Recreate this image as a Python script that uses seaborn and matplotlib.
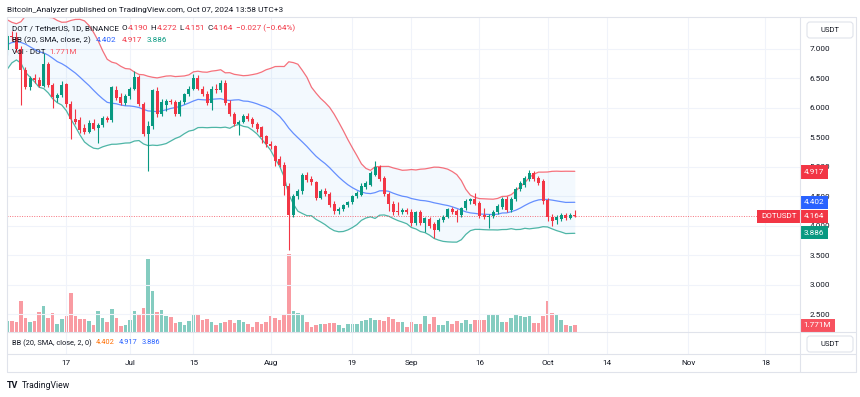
import numpy as np
import pandas as pd
import matplotlib
matplotlib.use("Agg")
import matplotlib.pyplot as plt
import matplotlib.transforms as mtransforms
from matplotlib.lines import Line2D
from matplotlib.patches import FancyBboxPatch
import seaborn as sns

# DOT / USDT daily candles (Binance), 2024-06-04 .. 2024-10-07
start_date = "2024-06-04"
opens = [6.99, 7.22, 7.20, 7.00, 6.65, 6.36, 6.51, 6.47, 6.38, 6.74,
         6.39, 6.17, 6.22, 6.40, 6.07, 5.81, 5.80, 5.66, 5.60, 5.75,
         5.66, 5.71, 5.83, 5.80, 6.30, 6.19, 6.09, 6.20, 6.33, 6.53,
         6.07, 5.56, 5.69, 6.28, 5.90, 6.05, 6.12, 6.10, 5.90, 6.10,
         6.23, 6.33, 6.50, 6.33, 6.24, 6.09, 6.33, 6.30, 6.43, 6.09,
         5.90, 5.73, 5.77, 5.86, 5.82, 5.72, 5.67, 5.52, 5.39, 5.35,
         5.13, 5.04, 4.68, 4.19, 4.50, 4.59, 4.87, 4.79, 4.74, 4.48,
         4.59, 4.55, 4.38, 4.26, 4.28, 4.35, 4.40, 4.50, 4.52, 4.66,
         4.70, 4.87, 5.00, 4.82, 4.55, 4.38, 4.26, 4.24, 4.27, 4.24,
         4.05, 4.23, 4.05, 4.11, 4.03, 3.94, 4.10, 4.16, 4.28, 4.26,
         4.19, 4.30, 4.42, 4.45, 4.39, 4.19, 4.15, 4.17, 4.24, 4.32,
         4.46, 4.27, 4.46, 4.63, 4.70, 4.80, 4.89, 4.81, 4.76, 4.44,
         4.16, 4.10, 4.11, 4.19, 4.13, 4.190]
highs = [7.26, 7.30, 7.28, 7.05, 6.70, 6.55, 6.58, 6.52, 6.93, 6.78,
         6.42, 6.26, 6.45, 6.42, 6.12, 5.98, 5.84, 5.72, 5.80, 5.82,
         5.74, 5.86, 5.87, 6.38, 6.38, 6.25, 6.24, 6.36, 6.62, 6.56,
         6.10, 5.78, 6.33, 6.35, 6.15, 6.16, 6.16, 6.14, 6.14, 6.26,
         6.37, 6.58, 6.56, 6.38, 6.28, 6.37, 6.40, 6.47, 6.47, 6.13,
         5.94, 5.80, 5.90, 5.92, 5.85, 5.76, 5.70, 5.55, 5.44, 5.38,
         5.18, 5.08, 4.72, 4.55, 4.63, 4.89, 4.92, 4.84, 4.77, 4.63,
         4.65, 4.58, 4.42, 4.32, 4.38, 4.43, 4.53, 4.60, 4.72, 4.76,
         4.93, 5.10, 5.03, 4.85, 4.58, 4.42, 4.40, 4.30, 4.30, 4.28,
         4.26, 4.27, 4.16, 4.15, 4.07, 4.13, 4.19, 4.31, 4.32, 4.29,
         4.33, 4.45, 4.48, 4.56, 4.42, 4.30, 4.20, 4.27, 4.37, 4.49,
         4.50, 4.49, 4.66, 4.76, 4.85, 4.95, 4.93, 4.84, 4.79, 4.48,
         4.20, 4.18, 4.22, 4.22, 4.22, 4.272]
lows = [6.90, 7.14, 6.95, 6.05, 6.33, 6.30, 6.42, 6.35, 6.35, 6.36,
        6.00, 6.10, 6.18, 6.02, 5.47, 5.72, 5.58, 5.56, 5.57, 5.62,
        5.40, 5.68, 5.76, 5.77, 6.14, 6.05, 6.05, 6.16, 6.30, 6.03,
        5.52, 4.93, 5.65, 5.85, 5.86, 5.95, 6.06, 5.86, 5.86, 6.06,
        6.20, 6.30, 6.30, 6.20, 6.05, 5.97, 6.25, 6.27, 6.05, 5.86,
        5.70, 5.54, 5.74, 5.78, 5.68, 5.60, 5.40, 5.34, 5.30, 5.02,
        5.00, 4.53, 3.59, 4.15, 4.45, 4.55, 4.74, 4.70, 4.44, 4.45,
        4.50, 4.32, 4.20, 4.21, 4.25, 4.32, 4.37, 4.47, 4.50, 4.63,
        4.67, 4.84, 4.76, 4.50, 4.25, 4.19, 4.18, 4.20, 4.20, 4.00,
        4.02, 4.02, 3.90, 3.96, 3.80, 3.91, 4.07, 4.13, 4.20, 4.06,
        4.16, 4.27, 4.38, 4.35, 4.13, 4.12, 3.97, 4.14, 4.21, 4.29,
        4.24, 4.24, 4.43, 4.60, 4.66, 4.77, 4.77, 4.69, 4.38, 4.08,
        4.00, 4.03, 4.08, 4.10, 4.11, 4.151]
closes = [7.22, 7.20, 7.00, 6.65, 6.36, 6.51, 6.47, 6.38, 6.74, 6.39,
          6.19, 6.22, 6.39, 6.07, 5.81, 5.77, 5.63, 5.60, 5.75, 5.65,
          5.71, 5.83, 5.79, 6.36, 6.17, 6.09, 6.20, 6.33, 6.53, 6.07,
          5.56, 5.69, 6.30, 5.90, 6.10, 6.12, 6.10, 5.90, 6.10, 6.23,
          6.33, 6.50, 6.33, 6.24, 6.09, 6.33, 6.30, 6.43, 6.09, 5.90,
          5.73, 5.77, 5.86, 5.82, 5.72, 5.64, 5.50, 5.39, 5.35, 5.10,
          5.03, 4.68, 4.19, 4.50, 4.59, 4.87, 4.78, 4.74, 4.48, 4.59,
          4.55, 4.36, 4.26, 4.28, 4.35, 4.40, 4.50, 4.56, 4.68, 4.72,
          4.90, 5.00, 4.80, 4.55, 4.38, 4.23, 4.24, 4.27, 4.23, 4.05,
          4.23, 4.05, 4.13, 4.00, 3.94, 4.10, 4.16, 4.28, 4.24, 4.19,
          4.30, 4.42, 4.45, 4.38, 4.17, 4.15, 4.17, 4.24, 4.34, 4.46,
          4.27, 4.46, 4.63, 4.73, 4.82, 4.89, 4.80, 4.72, 4.42, 4.16,
          4.09, 4.15, 4.19, 4.13, 4.19, 4.164]
# volume in millions of DOT
volumes = [2.9, 2.9, 2.55, 8.1, 3.6, 2.7, 2.9, 5.2, 6.8, 3.6,
           5.1, 2.0, 3.4, 4.1, 10.2, 4.1, 3.4, 3.4, 2.9, 1.8,
           5.5, 3.8, 2.7, 6.1, 3.8, 1.6, 1.9, 3.3, 5.5, 4.4,
           6.4, 19.4, 10.9, 5.2, 5.9, 4.3, 3.9, 2.3, 2.7, 1.9,
           2.9, 4.8, 4.4, 3.3, 3.4, 2.7, 1.8, 2.3, 2.7, 3.1,
           2.3, 3.1, 2.55, 2.1, 1.2, 2.55, 2.0, 2.7, 4.3, 3.6,
           3.1, 4.7, 20.7, 5.5, 5.0, 4.6, 2.7, 1.2, 1.8, 2.2,
           2.2, 2.4, 2.4, 1.9, 1.0, 2.1, 2.1, 2.1, 2.9, 3.1,
           3.6, 3.3, 3.1, 2.9, 4.0, 3.4, 2.55, 2.55, 1.2, 2.55,
           2.2, 2.2, 4.1, 2.0, 4.0, 1.8, 1.8, 2.9, 2.0, 2.9,
           2.4, 3.3, 2.0, 3.1, 3.3, 3.3, 4.7, 4.4, 4.4, 2.55,
           2.55, 3.6, 4.7, 4.1, 4.0, 4.3, 2.4, 2.4, 4.1, 8.2,
           5.0, 4.7, 3.1, 1.8, 1.6, 1.771]
# closes before the first visible candle, only used to start the 20-day bands
warmup_closes = [6.55, 6.75, 6.85, 6.95, 7.40, 7.35, 7.20, 7.10, 7.15, 7.25,
                 7.35, 7.10, 7.00, 6.95, 6.90, 7.00, 7.05, 7.15, 7.25]

bb_values = [4.402, 4.917, 3.886]   # basis, upper, lower as printed
last_volume = "1.771M"

tick_dates = ["2024-06-17", "2024-07-01", "2024-07-15", "2024-08-01", "2024-08-19", "2024-09-01",
              "2024-09-16", "2024-10-01", "2024-10-14", "2024-11-01", "2024-11-18"]
tick_labels = ["17", "Jul", "15", "Aug", "19", "Sep", "16", "Oct", "14", "Nov", "18"]
price_ticks = [2.5, 3.0, 3.5, 4.0, 4.5, 5.0, 5.5, 6.0, 6.5, 7.0]

UP, DOWN = "#089981", "#f23645"
VOL_UP, VOL_DOWN = "#84ccc0", "#f99ba2"
DARK = "#131722"
BORDER = "#e0e3eb"
GRID = "#f0f3fa"

sns.set_theme(style="white")
plt.rcParams["font.family"] = ["Roboto", "DejaVu Sans"]

W, H = 860, 397
def fx(x):
    return x / W
def fy(y):
    return 1 - y / H

o = np.array(opens); h = np.array(highs); l = np.array(lows); c = np.array(closes)
n = len(c)
idx = np.arange(n)
dates = pd.date_range(start_date, periods=n, freq="D")
tick_pos = [(pd.Timestamp(d) - dates[0]).days for d in tick_dates]
rising = c >= o

# bollinger bands 20, 2
s = pd.Series(warmup_closes + closes)
mid = s.rolling(20).mean().to_numpy()[-n:]
sd = s.rolling(20).std(ddof=0).to_numpy()[-n:]
upper = mid + 2 * sd
lower = mid - 2 * sd

fig = plt.figure(figsize=(W / 100, H / 100), dpi=100)
fig.patch.set_facecolor("white")

ax = fig.add_axes([fx(7), fy(332), (800 - 7) / W, (332 - 17) / H])
axv = ax.twinx()
ax.set_zorder(axv.get_zorder() + 1)
ax.patch.set_visible(False)

# volume underneath
vol_df = pd.DataFrame({"i": idx, "vol": volumes, "dir": np.where(rising, "up", "down")})
sns.barplot(data=vol_df, x="i", y="vol", hue="dir", palette={"up": VOL_UP, "down": VOL_DOWN},
            native_scale=True, dodge=False, width=0.78, saturation=1, legend=False,
            linewidth=0, ax=axv)
axv.set_ylim(0, 83.2)
axv.set_yticks([])
axv.set_xlabel("")
axv.set_ylabel("")

# bands
ax.fill_between(idx, lower, upper, color="#2196f3", alpha=0.05, lw=0, zorder=1)
sns.lineplot(x=idx, y=upper, ax=ax, color=DOWN, lw=0.9, alpha=0.7, zorder=2)
sns.lineplot(x=idx, y=mid, ax=ax, color="#2962ff", lw=0.9, alpha=0.7, zorder=2)
sns.lineplot(x=idx, y=lower, ax=ax, color=UP, lw=0.9, alpha=0.7, zorder=2)

# candles
cols = np.where(rising, UP, DOWN)
ax.vlines(idx, l, h, colors=cols, lw=0.8, zorder=3)
body = np.maximum(np.abs(c - o), 0.012)
ax.bar(idx, body, bottom=np.minimum(o, c), width=0.66, color=cols, lw=0, zorder=4)

ax.axhline(c[-1], color=DOWN, lw=0.7, ls=(0, (1, 1.5)), alpha=0.7, zorder=2)

ax.set_xlim(-0.07, 174.6)
ax.set_ylim(2.203, 7.542)
ax.set_xticks(tick_pos)
ax.tick_params(axis="x", length=0, labelbottom=False)
ax.yaxis.tick_right()
ax.set_yticks(price_ticks)
ax.set_yticklabels([f"{v:.3f}" for v in price_ticks])
ax.tick_params(axis="y", length=0, pad=7, labelsize=5.9, labelcolor=DARK)
ax.grid(True, color=GRID, lw=0.8)
ax.set_xlabel("")
ax.set_ylabel("")
for a in (ax, axv):
    for sp in a.spines.values():
        sp.set_visible(False)

# price tags on the scale
tr = mtransforms.blended_transform_factory(ax.transAxes, ax.transData)
tags = [(bb_values[1], DOWN), (bb_values[0], "#2962ff"), (closes[-1], DOWN), (bb_values[2], UP)]
for val, col in tags:
    ax.text(1.0047, val, f"{val:.3f}", transform=tr, ha="left", va="center", fontsize=5.9,
            color="white", bbox=dict(boxstyle="square,pad=0.45", fc=col, ec="none"),
            clip_on=False, zorder=10)
ax.text(1 - 3.6 / 793, closes[-1], "DOTUSDT", transform=tr, ha="right", va="center", fontsize=5.9,
        color="white", bbox=dict(boxstyle="square,pad=0.45", fc=DOWN, ec="none"), zorder=10)
trv = mtransforms.blended_transform_factory(axv.transAxes, axv.transData)
axv.text(1.0047, volumes[-1], last_volume, transform=trv, ha="left", va="center", fontsize=5.9,
         color="white", bbox=dict(boxstyle="square,pad=0.45", fc="#f7525f", ec="none"),
         clip_on=False, zorder=10)

# second pane and time scale
ax2 = fig.add_axes([fx(7), fy(354), 793 / W, 22 / H], sharex=ax)
ax2.set_yticks([])
ax2.set_xticks(tick_pos)
ax2.set_xticklabels(tick_labels)
ax2.tick_params(axis="x", length=0, pad=4.5, labelsize=5.9, labelcolor=DARK, labelbottom=True)
ax2.grid(True, axis="x", color=GRID, lw=0.8)
for sp in ax2.spines.values():
    sp.set_visible(False)
ax.set_xlim(-0.07, 174.6)

# frame lines
for x0, y0, x1, y1 in [(7, 17, 856, 17), (7, 332, 856, 332), (7, 354, 856, 354), (7, 372, 856, 372),
                       (7, 17, 7, 372), (800, 17, 800, 372), (856, 17, 856, 372)]:
    fig.add_artist(Line2D([fx(x0), fx(x1)], [fy(y0), fy(y1)], transform=fig.transFigure,
                          color=BORDER, lw=0.8))

for ytop in (22, 336):
    fig.add_artist(FancyBboxPatch((807, H - ytop - 16), 46, 16, boxstyle="round,pad=0,rounding_size=3",
                                  transform=mtransforms.IdentityTransform(), fc="white", ec=BORDER, lw=0.8))
    fig.text(fx(830), fy(ytop + 8), "USDT", ha="center", va="center", fontsize=5.5, color=DARK)

renderer = fig.canvas.get_renderer()
def text_run(x, y, parts, size=5.9):
    for txt, col, gap in parts:
        t = fig.text(fx(x), fy(y), txt, color=col, fontsize=size, ha="left", va="center")
        x += t.get_window_extent(renderer=renderer).width + gap

fig.text(fx(7), fy(10), "Bitcoin_Analyzer published on TradingView.com, Oct 07, 2024 13:58 UTC+3",
         fontsize=5.95, color=DARK, va="center")
text_run(12, 28, [("DOT / TetherUS, 1D, BINANCE", DARK, 3), ("O", DARK, 0.3), ("4.190", DOWN, 2.5),
                  ("H", DARK, 0.3), ("4.272", DOWN, 2.5), ("L", DARK, 0.3), ("4.151", DOWN, 2.5),
                  ("C", DARK, 0.3), ("4.164", DOWN, 2.5), ("\u22120.027 (\u22120.64%)", DOWN, 0)])
text_run(12, 40, [("BB (20, SMA, close, 2)", DARK, 5), ("4.402", "#2962ff", 5),
                  ("4.917", DOWN, 5), ("3.886", UP, 0)])
text_run(12, 52, [("Vol \u00b7 DOT", DARK, 4), (last_volume, "#f7525f", 0)])
text_run(12, 343, [("BB (20, SMA, close, 2, 0)", DARK, 4), ("4.402", "#ff6d00", 4),
                   ("4.917", "#2962ff", 4), ("3.886", "#2962ff", 0)], size=5.3)

fig.text(fx(7), fy(385), "TV", fontsize=6.5, weight="bold", color=DARK, va="center")
fig.text(fx(22), fy(385), "TradingView", fontsize=6.2, color=DARK, va="center")

fig.savefig("out.png", dpi=100, facecolor="white")
